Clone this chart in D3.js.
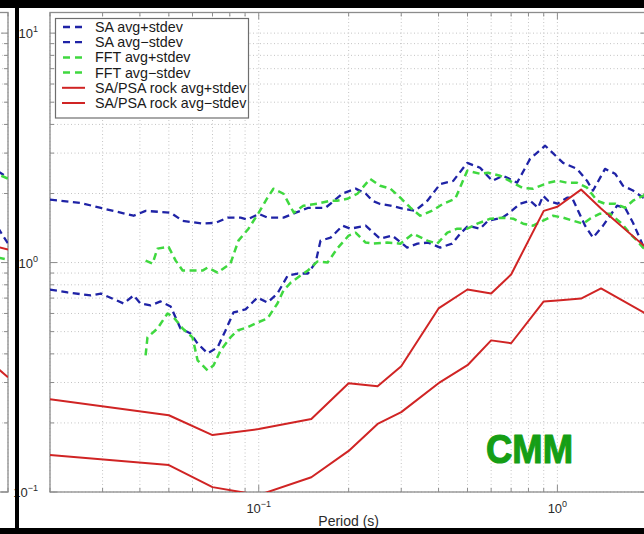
<!DOCTYPE html>
<html>
<head>
<meta charset="utf-8">
<script src="https://d3js.org/d3.v7.min.js"></script>
<style>
  body { margin: 0; background: #fff; overflow: hidden; }
  svg text { font-family: "Liberation Sans", Arial, sans-serif; }
</style>
</head>
<body>
<div id="chart"></div>
<script>
// [period (s), value] pairs
var saPlus = [[0.02,1.88],[0.0253,1.82],[0.0296,1.73],[0.0381,1.60],[0.0418,1.68],[0.0507,1.65],[0.0556,1.52],
  [0.0648,1.48],[0.0717,1.49],[0.0786,1.57],[0.0869,1.57],[0.0917,1.54],[0.1,1.63],[0.107,1.57],[0.121,1.57],
  [0.133,1.65],[0.146,1.73],[0.167,1.73],[0.191,2.0],[0.211,2.1],[0.228,2.0],[0.24,1.86],[0.255,1.8],[0.276,1.77],
  [0.303,1.72],[0.334,1.68],[0.367,1.86],[0.405,2.2],[0.448,2.27],[0.499,2.72],[0.551,2.59],[0.605,2.27],
  [0.658,2.39],[0.733,2.23],[0.81,2.83],[0.91,3.23],[1.045,2.72],[1.164,2.56],[1.257,2.27],[1.316,2.06],
  [1.444,2.56],[1.56,2.44],[1.659,2.16],[1.791,2.06],[1.935,1.92],[2.0,1.88]];

var saMinus = [[0.02,0.763],[0.0229,0.741],[0.0274,0.719],[0.0296,0.733],[0.0353,0.663],[0.0381,0.719],[0.0402,0.663],
  [0.0434,0.650],[0.0469,0.677],[0.0507,0.644],[0.0547,0.516],[0.0591,0.491],[0.0624,0.444],[0.0674,0.402],
  [0.0728,0.427],[0.0774,0.506],[0.0823,0.606],[0.0903,0.625],[0.099,0.704],[0.107,0.670],[0.1155,0.733],
  [0.125,0.878],[0.135,0.896],[0.146,0.896],[0.155,1.0],[0.161,1.246],[0.174,1.284],[0.191,1.448],[0.203,1.405],
  [0.228,1.448],[0.255,1.271],[0.28,1.31],[0.314,1.162],[0.34,1.209],[0.369,1.222],[0.405,1.162],[0.444,1.209],
  [0.473,1.337],[0.503,1.448],[0.551,1.405],[0.586,1.522],[0.653,1.569],[0.684,1.633],[0.75,1.805],[0.81,1.86],
  [0.862,1.734],[0.896,1.955],[0.931,1.86],[1.0,1.805],[1.078,1.917],[1.12,1.917],[1.173,1.683],[1.238,1.448],
  [1.316,1.284],[1.422,1.448],[1.584,1.769],[1.685,1.734],[1.791,1.492],[1.935,1.186],[2.0,1.1]];

var fftPlus = [[0.0418,1.02],[0.0441,0.99],[0.0458,1.15],[0.0499,1.17],[0.0527,1.02],[0.0556,0.923],[0.0648,0.923],
  [0.0674,0.951],[0.0728,0.905],[0.0804,0.99],[0.0855,1.246],[0.0924,1.405],[0.1,1.65],[0.107,1.917],[0.112,2.098],
  [0.121,1.995],[0.131,1.65],[0.141,1.769],[0.157,1.805],[0.174,1.86],[0.183,1.86],[0.198,1.897],[0.214,1.995],
  [0.236,2.318],[0.255,2.161],[0.276,2.098],[0.298,1.917],[0.322,1.734],[0.347,1.601],[0.381,1.683],[0.415,1.805],
  [0.455,1.897],[0.499,2.512],[0.551,2.438],[0.586,2.462],[0.643,2.389],[0.711,2.227],[0.762,2.119],[0.829,2.098],
  [0.931,2.227],[1.005,2.273],[1.078,2.227],[1.164,2.227],[1.257,2.119],[1.358,1.86],[1.444,1.805],[1.56,1.805],
  [1.685,1.734],[1.791,1.86],[1.935,1.955],[2.0,2.0]];

var fftMinus = [[0.0418,0.394],[0.0424,0.472],[0.0458,0.516],[0.0495,0.600],[0.0519,0.577],[0.0556,0.516],[0.06,0.472],
  [0.0624,0.375],[0.0674,0.339],[0.0706,0.357],[0.0745,0.414],[0.0804,0.472],[0.0849,0.506],[0.0917,0.522],
  [0.099,0.548],[0.107,0.571],[0.1155,0.663],[0.121,0.756],[0.128,0.818],[0.138,0.878],[0.146,0.923],[0.157,1.01],
  [0.170,1.0],[0.183,1.15],[0.2,1.31],[0.211,1.35],[0.228,1.222],[0.242,1.209],[0.269,1.222],[0.298,1.209],
  [0.329,1.337],[0.367,1.246],[0.396,1.209],[0.428,1.35],[0.462,1.405],[0.499,1.405],[0.539,1.477],[0.596,1.553],
  [0.658,1.569],[0.711,1.553],[0.768,1.477],[0.829,1.448],[0.896,1.522],[0.967,1.601],[1.045,1.569],[1.128,1.522],
  [1.219,1.477],[1.286,1.553],[1.389,1.633],[1.501,1.633],[1.646,1.477],[1.75,1.337],[1.847,1.246],[1.935,1.162],[2.0,1.12]];

var rockPlus = [[0.02,0.254],[0.05,0.216],[0.07,0.177],[0.1,0.188],[0.15,0.208],[0.2,0.298],[0.25,0.289],[0.3,0.353],
  [0.4,0.631],[0.5,0.763],[0.6,0.733],[0.7,0.887],[0.9,1.68],[1.0,1.75],[1.2,2.08],[1.4,1.72],[2.0,1.15]];

var rockMinus = [[0.02,0.145],[0.05,0.131],[0.07,0.105],[0.1,0.097],[0.15,0.116],[0.2,0.151],[0.25,0.198],[0.3,0.223],
  [0.4,0.298],[0.5,0.357],[0.6,0.458],[0.7,0.445],[0.9,0.677],[1.0,0.684],[1.2,0.697],[1.4,0.771],[2.0,0.594]];

// edge of the neighbouring panel on the left
var nbBlueA = [[1.85,2.5],[2.0,2.34]];
var nbGreenA = [[1.9,2.39],[2.0,2.32]];
var nbBlueB = [[1.85,1.42],[2.0,1.21]];
var nbRedA = [[1.85,1.17],[2.0,1.14]];
var nbGreenB = [[1.85,1.05],[2.0,1.03]];
var nbRedB = [[1.85,0.345],[2.0,0.316]];

var legendLabels = ["SA avg+stdev", "SA avg\u2212stdev", "FFT avg+stdev", "FFT avg\u2212stdev",
  "SA/PSA rock avg+stdev", "SA/PSA rock avg\u2212stdev"];
var xMajor = [0.1, 1];
var xMajorExp = ["\u22121", "0"];
var yMajor = [0.1, 1, 10];
var yMajorExp = ["\u22121", "0", "1"];
var xDomain = [0.02, 2];
var yDomain = [0.1, 12.3];

var blue = "#1f23a6", green = "#3fd83f", red = "#d02424";
var styles = [
  {c: blue, dash: "7,4.5", w: 2.3},
  {c: blue, dash: "7,4.5", w: 2.3},
  {c: green, dash: "7,4.5", w: 2.5},
  {c: green, dash: "7,4.5", w: 2.5},
  {c: red, dash: null, w: 2},
  {c: red, dash: null, w: 2}
];
var series = [saPlus, saMinus, fftPlus, fftMinus, rockPlus, rockMinus];

function minorValues(lo, hi) {
  var out = [];
  for (var e = -3; e <= 2; e++) {
    for (var m = 1; m <= 9; m++) {
      var v = +(m * Math.pow(10, e)).toPrecision(3);
      if (v >= lo - 1e-9 && v <= hi + 1e-9) out.push(v);
    }
  }
  return out;
}

var W = 644, H = 534;
var svg = d3.select("#chart").append("svg").attr("width", W).attr("height", H);
svg.append("rect").attr("width", W).attr("height", H).attr("fill", "#fff");

var x = d3.scaleLog().domain(xDomain).range([50, 647.3]);
var y = d3.scaleLog().domain(yDomain).range([492, 12.5]);
var xN = d3.scaleLog().domain(xDomain).range([8 - 597.3, 8]);

var xGrid = minorValues(xDomain[0], xDomain[1]);
var yGrid = minorValues(yDomain[0], yDomain[1]);

var gridCol = "#c4c4c4", axisCol = "#8c8c8c";

function drawPanel(g, xs, clipId) {
  var x0 = xs.range()[0], x1 = xs.range()[1], y0 = y.range()[0], y1 = y.range()[1];
  // grid
  g.selectAll(".gx").data(xGrid).enter().append("line")
    .attr("x1", d => xs(d)).attr("x2", d => xs(d)).attr("y1", y0).attr("y2", y1)
    .attr("stroke", gridCol).attr("stroke-dasharray", "1,2.5");
  g.selectAll(".gy").data(yGrid).enter().append("line")
    .attr("x1", x0).attr("x2", x1).attr("y1", d => y(d)).attr("y2", d => y(d))
    .attr("stroke", gridCol).attr("stroke-dasharray", "1,2.5");
  // ticks
  function tlen(v) { return Math.abs(Math.log10(v) - Math.round(Math.log10(v))) < 1e-6 ? 7 : 4; }
  g.selectAll(".tb").data(xGrid).enter().append("line")
    .attr("x1", d => xs(d)).attr("x2", d => xs(d)).attr("y1", y0).attr("y2", d => y0 - tlen(d))
    .attr("stroke", axisCol);
  g.selectAll(".tt").data(xGrid).enter().append("line")
    .attr("x1", d => xs(d)).attr("x2", d => xs(d)).attr("y1", y1).attr("y2", d => y1 + tlen(d))
    .attr("stroke", axisCol);
  g.selectAll(".tl").data(yGrid).enter().append("line")
    .attr("x1", x0).attr("x2", d => x0 + tlen(d)).attr("y1", d => y(d)).attr("y2", d => y(d))
    .attr("stroke", axisCol);
  g.selectAll(".tr").data(yGrid).enter().append("line")
    .attr("x1", x1).attr("x2", d => x1 - tlen(d)).attr("y1", d => y(d)).attr("y2", d => y(d))
    .attr("stroke", axisCol);
  // box
  g.append("rect").attr("x", x0).attr("y", y1).attr("width", x1 - x0).attr("height", y0 - y1)
    .attr("fill", "none").attr("stroke", axisCol).attr("stroke-width", 1.3);

  g.append("clipPath").attr("id", clipId).append("rect")
    .attr("x", x0).attr("y", y1).attr("width", x1 - x0).attr("height", y0 - y1);
}

// neighbouring panel sliver
var gN = svg.append("g");
drawPanel(gN, xN, "clipN");
var lineN = d3.line().x(d => xN(d[0])).y(d => y(d[1]));
var nb = [[nbBlueA, styles[0]], [nbGreenA, styles[2]], [nbBlueB, styles[1]], [nbRedA, styles[4]], [nbGreenB, styles[3]], [nbRedB, styles[5]]];
gN.append("g").attr("clip-path", "url(#clipN)").selectAll("path").data(nb).enter().append("path")
  .attr("d", d => lineN(d[0])).attr("fill", "none")
  .attr("stroke", d => d[1].c).attr("stroke-width", d => d[1].w)
  .attr("stroke-dasharray", d => d[1].dash);

// main panel
var g = svg.append("g");
drawPanel(g, x, "clipM");
var line = d3.line().x(d => x(d[0])).y(d => y(d[1]));
g.append("g").attr("clip-path", "url(#clipM)").selectAll("path").data(series).enter().append("path")
  .attr("d", d => line(d)).attr("fill", "none")
  .attr("stroke", (d, i) => styles[i].c).attr("stroke-width", (d, i) => styles[i].w)
  .attr("stroke-dasharray", (d, i) => styles[i].dash)
  .attr("stroke-linejoin", "round");

// tick labels
var labCol = "#2a2a2a";
yMajor.forEach(function (v, i) {
  var t = g.append("text").attr("x", 38).attr("y", y(v) + 5).attr("text-anchor", "end")
    .attr("font-size", 13).attr("fill", labCol);
  t.append("tspan").text("10");
  t.append("tspan").attr("dy", -6).attr("font-size", 9).text(yMajorExp[i]);
});
xMajor.forEach(function (v, i) {
  var t = g.append("text").attr("x", x(v)).attr("y", 513).attr("text-anchor", "middle")
    .attr("font-size", 13).attr("fill", labCol);
  t.append("tspan").text("10");
  t.append("tspan").attr("dy", -6).attr("font-size", 9).text(xMajorExp[i]);
});
g.append("text").attr("x", (x.range()[0] + x.range()[1]) / 2).attr("y", 526)
  .attr("text-anchor", "middle").attr("font-size", 14).attr("fill", labCol).text("Period (s)");

// legend
var lg = g.append("g");
lg.append("rect").attr("x", 55.5).attr("y", 18.5).attr("width", 193).attr("height", 99.5)
  .attr("fill", "#fff").attr("stroke", "#6e6e6e").attr("stroke-width", 1.2);
legendLabels.forEach(function (lab, i) {
  var cy = 27 + 15.2 * i, s = styles[i];
  lg.append("line").attr("x1", s.dash ? 63 : 62).attr("x2", s.dash ? 83 : 85).attr("y1", cy).attr("y2", cy)
    .attr("stroke", s.c).attr("stroke-width", s.w).attr("stroke-dasharray", s.dash ? "7,5" : null);
  lg.append("text").attr("x", 95).attr("y", cy + 5).attr("font-size", 14.3).attr("fill", "#1a1a1a").text(lab);
});

// annotation
g.append("text").attr("x", 486).attr("y", 463).attr("font-family", "DejaVu Sans")
  .attr("font-weight", "bold").attr("font-size", 41).attr("fill", "#159e15")
  .attr("stroke", "#159e15").attr("stroke-width", 1.2).attr("stroke-linejoin", "round")
  .attr("textLength", 87).attr("lengthAdjust", "spacingAndGlyphs").text("CMM");

// slide frame
svg.append("rect").attr("x", 0).attr("y", 0).attr("width", W).attr("height", 8).attr("fill", "#000");
svg.append("rect").attr("x", 0).attr("y", 528).attr("width", W).attr("height", 6).attr("fill", "#000");
svg.append("rect").attr("x", 15).attr("y", 0).attr("width", 4).attr("height", H).attr("fill", "#000");
</script>
</body>
</html>
